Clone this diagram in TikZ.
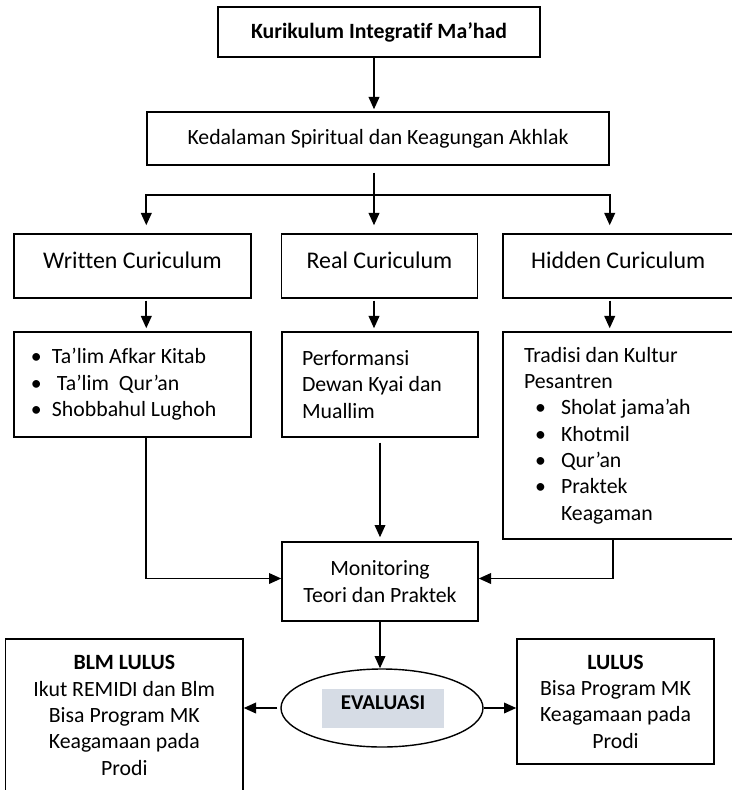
\documentclass[tikz,border=0pt]{standalone}
\usepackage{fontspec}
\setmainfont{Carlito}[Ligatures={CommonOff,ContextualOff},RawFeature=-liga]
\usepackage{xcolor}
\usetikzlibrary{arrows.meta,calc,shapes.geometric}
\definecolor{evfill}{HTML}{D6DCE5}
\newlength\pxl
\setlength\pxl{0.02cm}
\newcommand{\itm}{\makebox[21\pxl][l]{\textbullet}}
\newcommand{\itmb}{\hspace*{11\pxl}\makebox[26\pxl][l]{\textbullet}}

\begin{document}
\begin{tikzpicture}[x=0.02cm,y=-0.02cm,
    box/.style={draw,line width=0.8pt,inner sep=0pt,align=center,font=\fontsize{12.4pt}{15pt}\selectfont},
    head/.style={box,text depth=12\pxl,font=\fontsize{13.6pt}{16pt}\selectfont},
    arr/.style={line width=1.1pt,-{Triangle[width=6pt,length=7pt]}}]
                \useasboundingbox (0,0) rectangle (732,790);
                \node[box,minimum width=322\pxl,minimum height=50\pxl] at (379,32)(kim){\textbf{Kurikulum Integratif Ma’had}};
                \node[box,minimum width=462\pxl,minimum height=53\pxl] at (378,138.5)(ked){Kedalaman Spiritual dan Keagungan Akhlak};
                \node[head,minimum width=237\pxl,minimum height=64\pxl] at (132.5,266)(wc){Written Curiculum};
                \node[head,minimum width=196\pxl,minimum height=64\pxl] at (379.5,266)(rc){Real Curiculum};
                \node[head,minimum width=230.5\pxl,minimum height=64\pxl] at (618.25,266)(hc){Hidden Curiculum};
                \node[box,align=flush left,text width=203\pxl,inner xsep=17\pxl,minimum height=105\pxl] at (132.5,384.5)(wi){\itm Ta’lim Afkar Kitab\\\itm\ Ta’lim\ \ Qur’an\\\itm Shobbahul Lughoh};
                \node[box,align=flush left,text width=156\pxl,inner xsep=20\pxl,minimum height=105\pxl] at (380,384.5)(ri){Performansi\\Dewan Kyai dan\\Muallim};
                \node[box,align=flush left,text width=188.5\pxl,inner xsep=21\pxl,minimum height=207\pxl] at (618.25,435.5)(hi){Tradisi dan Kultur\\Pesantren\\\itmb Sholat jama’ah\\\itmb Khotmil\\\itmb Qur’an\\\itmb Praktek\\\hspace*{37\pxl}Keagaman};
                \node[box,minimum width=196\pxl,minimum height=79\pxl] at (380,581.5)(mon){Monitoring\\Teori dan Praktek};
                \node[draw,ellipse,line width=0.8pt,minimum width=202\pxl,minimum height=78\pxl,inner sep=0pt] at (382,708)(ev){};
                \node[fill=evfill,minimum width=122\pxl,minimum height=39\pxl,inner sep=0pt,text depth=11\pxl,font=\fontsize{12pt}{15pt}\selectfont\bfseries] at (383,708.5)(evl){EVALUASI};
                \node[box,minimum width=237.4\pxl,minimum height=153\pxl] at (124.3,715.5)(bl){\textbf{BLM LULUS}\\Ikut REMIDI dan Blm\\Bisa Program MK\\Keagamaan pada\\Prodi};
                \node[box,minimum width=197\pxl,minimum height=125\pxl] at (615.5,701.5)(lu){\textbf{LULUS}\\Bisa Program MK\\Keagamaan pada\\Prodi};
                \coordinate (f) at (374,195);
                \draw[arr,shorten >=2\pxl]([xshift=-5\pxl]kim.south)--([xshift=-5\pxl]kim.south |- ked.north);
                \draw[arr,shorten >=8\pxl]([xshift=-4\pxl,yshift=-7\pxl]ked.south)--(f |- wc.north);
                \draw[arr,shorten >=8\pxl](f)-|(ked.south west |- wc.north);
                \draw[arr,shorten >=8\pxl](f)-|(ked.south east |- hc.north);
                \draw[arr,shorten <=2\pxl,shorten >=3\pxl](wc.south -| ked.south west)--(wi.north -| ked.south west);
                \draw[arr,shorten <=2\pxl,shorten >=3\pxl](f |- rc.south)--(f |- ri.north);
                \draw[arr,shorten <=2\pxl,shorten >=3\pxl](hc.south -| ked.south east)--(hi.north -| ked.south east);
                \draw[arr](wi.south -| ked.south west)|-([yshift=3\pxl]mon.west);
                \draw[arr]([xshift=-5\pxl]hi.south)|-([yshift=3\pxl]mon.east);
                \draw[arr,shorten <=5\pxl,shorten >=4\pxl](ri.south)--(mon.north);
                \draw[arr](mon.south)--(mon.south |- ev.north);
                \draw[arr,shorten <=3\pxl](ev.west)--(ev.west -| bl.east);
                \draw[arr](ev.east)--(ev.east -| lu.west);
            \end{tikzpicture}
\end{document}
